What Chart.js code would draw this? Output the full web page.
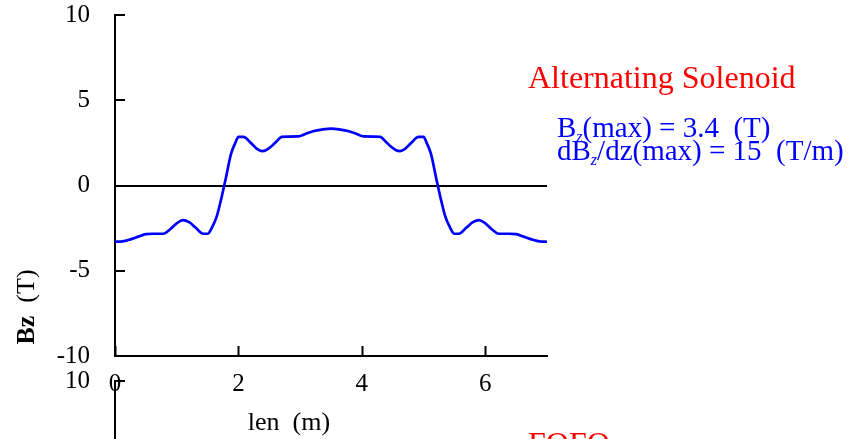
<!DOCTYPE html>
<html>
<head>
<meta charset="utf-8">
<script src="https://cdn.jsdelivr.net/npm/chart.js@4.4.1/dist/chart.umd.min.js"></script>
<style>
  html, body { margin: 0; padding: 0; background: #fff; overflow: hidden; }
  #wrap { position: relative; width: 853px; height: 439px; overflow: hidden; }
  canvas { position: absolute; left: 0; }
  #veld { top: 0; }
  #volgende { top: 366px; }
</style>
</head>
<body>
<div id="wrap">
  <canvas id="veld" width="853" height="439"></canvas>
  <canvas id="volgende" width="853" height="439"></canvas>
</div>
<script>
// lengte langs de as (m)
const lengte = [0, 0.12, 0.25, 0.38, 0.5, 0.62, 0.78, 0.9, 1.0, 1.1, 1.2, 1.3, 1.43, 1.5, 1.58, 1.65, 1.72, 1.8, 1.88, 1.95,
  2.0, 2.08, 2.2, 2.3, 2.38, 2.46, 2.55, 2.62, 2.7, 2.8, 2.97, 3.1, 3.21, 3.35, 3.5,
  3.65, 3.79, 3.9, 4.03, 4.2, 4.3, 4.38, 4.45, 4.54, 4.62, 4.7, 4.8, 4.92, 5.0, 5.05, 5.12, 5.2, 5.28, 5.35, 5.42,
  5.5, 5.57, 5.7, 5.8, 5.9, 6.0, 6.1, 6.22, 6.38, 6.5, 6.62, 6.75, 6.88, 7.0];
// Bz (T)
const bz = [-3.30, -3.28, -3.16, -3.0, -2.85, -2.83, -2.83, -2.55, -2.22, -2.03, -2.15, -2.45, -2.83, -2.83, -2.4, -1.8, -0.8, 0.5, 1.85, 2.5,
  2.85, 2.85, 2.5, 2.15, 2.02, 2.1, 2.35, 2.6, 2.85, 2.87, 2.88, 3.05, 3.18, 3.28, 3.34,
  3.28, 3.18, 3.05, 2.88, 2.87, 2.85, 2.6, 2.35, 2.1, 2.02, 2.15, 2.5, 2.85, 2.85, 2.5, 1.85, 0.5, -0.8, -1.8, -2.4,
  -2.83, -2.83, -2.45, -2.15, -2.03, -2.22, -2.55, -2.83, -2.83, -2.85, -3.0, -3.16, -3.28, -3.30];

const xTicks = [0, 2, 4, 6];
const yTicks = [-10, -5, 0, 5, 10];
const titel = "Alternating Solenoid";
const titelOnder = "FOFO";
const xTitel = "len  (m)";

const serif = "'Liberation Serif', 'Times New Roman', serif";

function schrijf(ctx, x, y, stukken) {
  stukken.forEach(s => {
    ctx.font = s.f;
    ctx.fillText(s.t, x, y + (s.dy || 0));
    x += ctx.measureText(s.t).width;
  });
}

const binnenTicks = {
  id: 'binnenTicks',
  afterDraw(chart) {
    const ctx = chart.ctx;
    const xs = chart.scales.x, ys = chart.scales.y;
    const a = chart.chartArea;
    ctx.save();
    ctx.strokeStyle = '#000';
    ctx.lineWidth = 2;
    ctx.beginPath();
    xs.ticks.forEach(t => {
      const px = Math.round(xs.getPixelForValue(t.value)) + 0.5;
      ctx.moveTo(px, a.bottom);
      ctx.lineTo(px, a.bottom - 10);
    });
    ys.ticks.forEach(t => {
      const py = Math.round(ys.getPixelForValue(t.value));
      ctx.moveTo(a.left, py);
      ctx.lineTo(a.left + 10, py);
    });
    ctx.stroke();
    ctx.restore();
  }
};

const teksten = {
  id: 'teksten',
  afterDraw(chart) {
    const ctx = chart.ctx;
    const a = chart.chartArea;
    ctx.save();
    ctx.textBaseline = 'alphabetic';
    ctx.textAlign = 'left';
    ctx.fillStyle = '#ff0000';
    ctx.font = `32px ${serif}`;
    ctx.fillText(titel, 528, a.top + 73);

    ctx.fillStyle = '#0000ff';
    schrijf(ctx, 557, 137, [
      { t: 'B', f: `29px ${serif}` },
      { t: 'z', f: `italic 16px ${serif}`, dy: 5 },
      { t: '(max) = 3.4  (T)', f: `29px ${serif}` }
    ]);
    schrijf(ctx, 557, 160, [
      { t: 'dB', f: `29px ${serif}` },
      { t: 'z', f: `italic 16px ${serif}`, dy: 5 },
      { t: '/dz(max) = 15  (T/m)', f: `29px ${serif}` }
    ]);

    ctx.fillStyle = '#000';
    ctx.textAlign = 'center';
    ctx.font = `26px ${serif}`;
    ctx.fillText(xTitel, 289, 430);

    ctx.translate(34, 307);
    ctx.rotate(-Math.PI / 2);
    ctx.textAlign = 'left';
    ctx.font = `bold 26px ${serif}`;
    const w1 = ctx.measureText('Bz').width;
    ctx.font = `26px ${serif}`;
    const w2 = ctx.measureText('  (T)').width;
    let x0 = -(w1 + w2) / 2;
    ctx.font = `bold 26px ${serif}`;
    ctx.fillText('Bz', x0, 0);
    ctx.font = `26px ${serif}`;
    ctx.fillText('  (T)', x0 + w1, 0);
    ctx.restore();
  }
};

const tekstOnder = {
  id: 'tekstOnder',
  afterDraw(chart) {
    const ctx = chart.ctx;
    ctx.save();
    ctx.fillStyle = '#ff0000';
    ctx.font = `32px ${serif}`;
    ctx.textBaseline = 'alphabetic';
    ctx.fillText(titelOnder, 528, chart.chartArea.top + 73);
    ctx.restore();
  }
};

function schalen() {
  return {
    x: {
      type: 'linear',
      min: 0,
      max: 7,
      afterBuildTicks: s => { s.ticks = xTicks.map(v => ({ value: v })); },
      afterFit: s => { s.height = 77; s.paddingLeft = 0; s.paddingRight = 0; },
      grid: { display: false },
      border: { display: true, color: '#000', width: 2 },
      ticks: { color: '#000', padding: 5, maxRotation: 0, font: { family: serif, size: 25 } }
    },
    y: {
      type: 'linear',
      min: -10,
      max: 10,
      afterBuildTicks: s => { s.ticks = yTicks.map(v => ({ value: v })); },
      afterFit: s => { s.width = 115; s.paddingTop = 0; s.paddingBottom = 0; },
      grid: {
        drawTicks: false,
        lineWidth: 2,
        color: c => (c.tick && c.tick.value === 0) ? '#000' : 'rgba(0,0,0,0)'
      },
      border: { display: true, color: '#000', width: 2 },
      ticks: { color: '#000', padding: 25, font: { family: serif, size: 25 } }
    }
  };
}

new Chart(document.getElementById('veld'), {
  type: 'line',
  data: {
    datasets: [{
      data: lengte.map((x, i) => ({ x: x, y: bz[i] })),
      borderColor: '#0000ff',
      borderWidth: 2.7,
      pointRadius: 0,
      cubicInterpolationMode: 'monotone',
      fill: false
    }]
  },
  options: {
    responsive: false,
    animation: false,
    layout: { autoPadding: false, padding: { left: 0, top: 15, right: 306, bottom: 6 } },
    plugins: { legend: { display: false }, tooltip: { enabled: false } },
    scales: schalen()
  },
  plugins: [binnenTicks, teksten]
});

new Chart(document.getElementById('volgende'), {
  type: 'line',
  data: { datasets: [] },
  options: {
    responsive: false,
    animation: false,
    layout: { autoPadding: false, padding: { left: 0, top: 15, right: 306, bottom: 6 } },
    plugins: { legend: { display: false }, tooltip: { enabled: false } },
    scales: schalen()
  },
  plugins: [binnenTicks, tekstOnder]
});
</script>
</body>
</html>
